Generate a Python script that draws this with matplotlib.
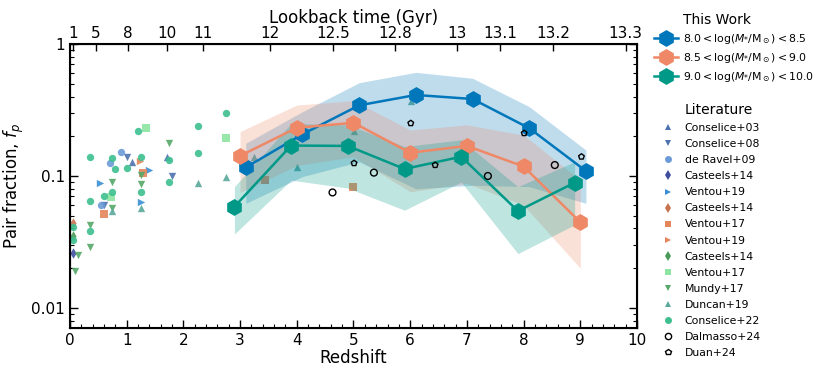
import numpy as np
import matplotlib
matplotlib.use("Agg")
import matplotlib.pyplot as plt
from matplotlib.lines import Line2D
from matplotlib.ticker import FixedLocator, MultipleLocator

# ---------------- This work ----------------
z_main = [3, 4, 5, 6, 7, 8, 9]
labels_main = [r'$8.0 < \log(M_{*}/{\rm M}_\odot) < 8.5$',
               r'$8.5 < \log(M_{*}/{\rm M}_\odot) < 9.0$',
               r'$9.0 < \log(M_{*}/{\rm M}_\odot) < 10.0$']
offsets = [0.1, 0.0, -0.1]
colors_main = ['#0077BB', '#EE8866', '#009988']

fp_low = [0.116, 0.207, 0.343, 0.411, 0.383, 0.230, 0.109]
fp_low_hi = [0.177, 0.307, 0.509, 0.61, 0.55, 0.335, 0.157]
fp_low_lo = [0.062, 0.099, 0.128, 0.080, 0.085, 0.083, 0.062]

fp_mid = [0.142, 0.232, 0.253, 0.150, 0.169, 0.118, 0.0446]
fp_mid_hi = [0.217, 0.345, 0.372, 0.223, 0.244, 0.204, 0.093]
fp_mid_lo = [0.075, 0.120, 0.140, 0.076, 0.088, 0.060, 0.020]

fp_high = [0.0585, 0.170, 0.169, 0.113, 0.140, 0.0543, 0.089]
fp_high_hi = [0.083, 0.250, 0.244, 0.167, 0.188, 0.083, 0.128]
fp_high_lo = [0.0363, 0.093, 0.081, 0.055, 0.090, 0.0258, 0.0427]

# ---------------- Literature ----------------
conselice03_z = [1.09, 1.705]
conselice03_f = [0.128, 0.139]
conselice08_z = [1.005, 0.605, 1.80]
conselice08_f = [0.140, 0.060, 0.100]
deravel09_z = [0.90, 0.705, 0.54]
deravel09_f = [0.153, 0.125, 0.0603]
casteels14a_z = [0.05]
casteels14a_f = [0.026]
ventou19a_z = [0.53, 1.40, 1.25]
ventou19a_f = [0.088, 0.111, 0.0639]
casteels14b_z = [0.05]
casteels14b_f = [0.044]
ventou17a_z = [0.594, 1.29, 3.44, 5.0]
ventou17a_f = [0.0518, 0.105, 0.094, 0.083]
ventou19b_z = [1.24]
ventou19b_f = [0.130]
casteels14c_z = [0.05]
casteels14c_f = [0.035]
ventou17b_z = [1.335, 0.72, 2.75]
ventou17b_f = [0.231, 0.0697, 0.195]
mundy17_z = [1.75, 0.746, 1.25, 1.25, 0.746, 0.35, 0.35, 0.15, 0.09]
mundy17_f = [0.177, 0.090, 0.101, 0.087, 0.057, 0.0425, 0.029, 0.025, 0.019]
duncan19_z = [0.746, 1.25, 2.25, 2.75, 3.25, 4.01, 5.01, 6.01]
duncan19_f = [0.054, 0.057, 0.089, 0.099, 0.140, 0.116, 0.220, 0.372]
conselice22_z = [1.20, 0.35, 0.75, 0.80, 1.0, 1.25, 1.75, 1.75, 0.746, 1.25,
                 0.35, 0.594, 0.35, 0.05, 0.05, 2.25, 2.25, 2.75]
conselice22_f = [0.219, 0.140, 0.136, 0.112, 0.115, 0.140, 0.131, 0.090, 0.076, 0.0756,
                 0.065, 0.0705, 0.038, 0.041, 0.033, 0.239, 0.150, 0.298]
dalmasso24_z = [4.63, 5.36, 7.37, 8.55]
dalmasso24_f = [0.075, 0.106, 0.100, 0.121]
duan24_z = [5.01, 6.01, 6.44, 8.01, 9.02]
duan24_f = [0.125, 0.251, 0.121, 0.211, 0.140]

# lookback time ticks (Gyr) and their redshift positions
lbt_labels = ['1', '5', '8', '10', '11', '12', '12.5', '12.8', '13', '13.1', '13.2', '13.3']
lbt_z = [0.06, 0.46, 1.02, 1.71, 2.35, 3.53, 4.64, 5.73, 6.83, 7.58, 8.52, 9.8]

lit = [
    ('Conselice+03', conselice03_z, conselice03_f, '^', '#4C72B0', True),
    ('Conselice+08', conselice08_z, conselice08_f, 'v', '#4C72B0', True),
    ('de Ravel+09', deravel09_z, deravel09_f, 'o', '#6A9BD8', True),
    ('Casteels+14', casteels14a_z, casteels14a_f, 'd', '#3F4FA0', True),
    ('Ventou+19', ventou19a_z, ventou19a_f, '>', '#3B8ED4', True),
    ('Casteels+14', casteels14b_z, casteels14b_f, 'd', '#C8724F', True),
    ('Ventou+17', ventou17a_z, ventou17a_f, 's', '#E4855A', True),
    ('Ventou+19', ventou19b_z, ventou19b_f, '>', '#E4855A', True),
    ('Casteels+14', casteels14c_z, casteels14c_f, 'd', '#4A9A5A', True),
    ('Ventou+17', ventou17b_z, ventou17b_f, 's', '#8DE5A1', True),
    ('Mundy+17', mundy17_z, mundy17_f, 'v', '#55A868', True),
    ('Duncan+19', duncan19_z, duncan19_f, '^', '#5AA89A', True),
    ('Conselice+22', conselice22_z, conselice22_f, 'o', '#3DBF8F', True),
    ('Dalmasso+24', dalmasso24_z, dalmasso24_f, 'o', 'black', False),
    ('Duan+24', duan24_z, duan24_f, 'p', 'black', False),
]

fig = plt.figure(figsize=(8.30, 3.77), dpi=100)
ax = fig.add_axes([0.0843, 0.130, 0.6832, 0.7533])

lit_handles = []
for name, zz, ff, mk, col, filled in lit:
    if filled:
        ax.scatter(zz, ff, marker=mk, s=28, color=col, alpha=0.9, linewidths=0, zorder=2)
        h = Line2D([], [], ls='none', marker=mk, markersize=5, color=col, markeredgewidth=0)
    else:
        sz = 24 if mk == 'o' else 18
        ax.scatter(zz, ff, marker=mk, s=sz, facecolors='none', edgecolors=col, linewidths=1.0, zorder=6)
        h = Line2D([], [], ls='none', marker=mk, markersize=4.5 if mk == 'o' else 4,
                   markerfacecolor='none', markeredgecolor=col, markeredgewidth=1.0)
    lit_handles.append(h)

series = [(fp_low, fp_low_lo, fp_low_hi), (fp_mid, fp_mid_lo, fp_mid_hi), (fp_high, fp_high_lo, fp_high_hi)]
main_handles = []
for (vals, lo, hi), off, col, lab in zip(series, offsets, colors_main, labels_main):
    zz = np.array(z_main) + off
    ax.fill_between(zz, lo, hi, color=col, alpha=0.25, linewidth=0, zorder=3)
    ax.plot(zz, vals, '-', color=col, lw=1.8, marker='h', markersize=11, zorder=5)
    main_handles.append(Line2D([], [], color=col, lw=1.8, marker='h', markersize=11))

ax.set_yscale('log')
ax.set_xlim(0, 10)
ax.set_ylim(0.00705, 1)
ax.set_yticks([0.01, 0.1, 1])
ax.set_yticklabels(['0.01', '0.1', '1'])
ax.xaxis.set_major_locator(MultipleLocator(1))
ax.xaxis.set_minor_locator(MultipleLocator(0.2))
ax.set_xlabel('Redshift', fontsize=12, labelpad=1)
ax.set_ylabel(r'Pair fraction, $f_p$', fontsize=12)
ax.tick_params(which='both', direction='in', top=False, right=True, labelsize=11)
ax.tick_params(which='major', length=6, width=1)
ax.tick_params(which='minor', length=3, width=0.8)
ax.tick_params(axis='y', which='minor', labelleft=False)
for sp in ax.spines.values():
    sp.set_linewidth(1.5)

ax2 = ax.twiny()
ax2.set_xlim(0, 10)
ax2.set_xticks(lbt_z)
ax2.set_xticklabels(lbt_labels)
ax2.xaxis.set_minor_locator(FixedLocator([]))
ax2.tick_params(direction='in', length=5, width=1, labelsize=11, pad=2)
ax2.set_xlabel('Lookback time (Gyr)', fontsize=12, labelpad=2)

blank = Line2D([], [], ls='none', marker='none')
leg1 = fig.legend([blank] + main_handles, ['This Work'] + labels_main, loc='upper left',
                  bbox_to_anchor=(0.780, 0.983), fontsize=7.8, frameon=False,
                  handlelength=2.2, handletextpad=0.5, labelspacing=0.45, borderaxespad=0.2)
leg1.get_texts()[0].set_fontsize(10)
leg2 = fig.legend([blank] + lit_handles, ['Literature'] + [l[0] for l in lit], loc='upper left',
                  bbox_to_anchor=(0.787, 0.744), fontsize=7.8, frameon=False,
                  handlelength=1.5, handletextpad=0.8, labelspacing=0.56, borderaxespad=0.2)
leg2.get_texts()[0].set_fontsize(10)

fig.savefig('out.png', dpi=100)
